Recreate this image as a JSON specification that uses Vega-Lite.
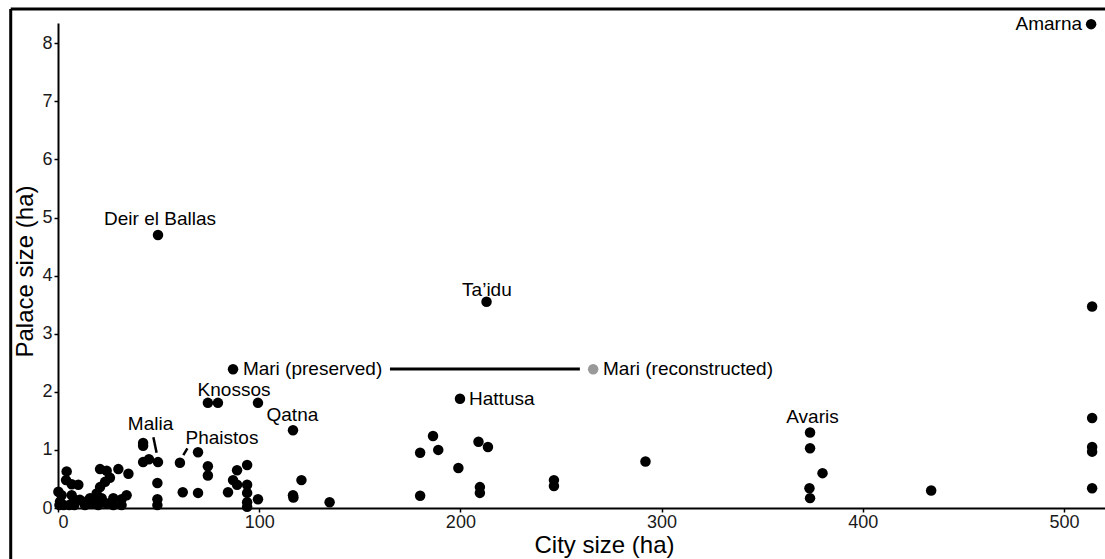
{
  "$schema": "https://vega.github.io/schema/vega-lite/v6.json",
  "width": 1047,
  "height": 485,
  "autosize": {"type": "none"},
  "padding": {"left": 58, "top": 23, "right": 0, "bottom": 51},
  "background": "white",
  "config": {
    "view": {"stroke": null},
    "font": "Liberation Sans",
    "axis": {
      "grid": false,
      "domainColor": "black",
      "domainWidth": 2,
      "tickColor": "black",
      "tickWidth": 1.5,
      "tickSize": 4,
      "labelFontSize": 18,
      "labelColor": "#1a1a1a",
      "labelFont": "Liberation Sans",
      "titleFont": "Liberation Sans",
      "titleFontSize": 24,
      "titleFontWeight": "normal",
      "titleColor": "black"
    }
  },
  "datasets": {
    "sites": [
      {"city": 513.5, "palace": 8.33, "estimate": "preserved"},
      {"city": 49.7, "palace": 4.70, "estimate": "preserved"},
      {"city": 213.0, "palace": 3.55, "estimate": "preserved"},
      {"city": 87.0, "palace": 2.39, "estimate": "preserved"},
      {"city": 266.0, "palace": 2.39, "estimate": "reconstructed"},
      {"city": 74.5, "palace": 1.81, "estimate": "preserved"},
      {"city": 79.5, "palace": 1.81, "estimate": "preserved"},
      {"city": 99.4, "palace": 1.81, "estimate": "preserved"},
      {"city": 116.8, "palace": 1.34, "estimate": "preserved"},
      {"city": 199.8, "palace": 1.88, "estimate": "preserved"},
      {"city": 373.8, "palace": 1.30, "estimate": "preserved"},
      {"city": 373.8, "palace": 1.03, "estimate": "preserved"},
      {"city": 380.0, "palace": 0.60, "estimate": "preserved"},
      {"city": 373.5, "palace": 0.34, "estimate": "preserved"},
      {"city": 373.8, "palace": 0.17, "estimate": "preserved"},
      {"city": 434.0, "palace": 0.30, "estimate": "preserved"},
      {"city": 514.0, "palace": 3.47, "estimate": "preserved"},
      {"city": 514.0, "palace": 1.55, "estimate": "preserved"},
      {"city": 514.0, "palace": 1.05, "estimate": "preserved"},
      {"city": 514.0, "palace": 0.97, "estimate": "preserved"},
      {"city": 514.0, "palace": 0.34, "estimate": "preserved"},
      {"city": 292.0, "palace": 0.80, "estimate": "preserved"},
      {"city": 246.5, "palace": 0.48, "estimate": "preserved"},
      {"city": 246.5, "palace": 0.38, "estimate": "preserved"},
      {"city": 209.7, "palace": 0.36, "estimate": "preserved"},
      {"city": 209.7, "palace": 0.26, "estimate": "preserved"},
      {"city": 209.0, "palace": 1.14, "estimate": "preserved"},
      {"city": 213.7, "palace": 1.05, "estimate": "preserved"},
      {"city": 180.0, "palace": 0.95, "estimate": "preserved"},
      {"city": 186.4, "palace": 1.24, "estimate": "preserved"},
      {"city": 189.0, "palace": 1.00, "estimate": "preserved"},
      {"city": 199.0, "palace": 0.69, "estimate": "preserved"},
      {"city": 180.0, "palace": 0.21, "estimate": "preserved"},
      {"city": 121.0, "palace": 0.48, "estimate": "preserved"},
      {"city": 116.8, "palace": 0.22, "estimate": "preserved"},
      {"city": 117.0, "palace": 0.18, "estimate": "preserved"},
      {"city": 135.0, "palace": 0.10, "estimate": "preserved"},
      {"city": 99.4, "palace": 0.15, "estimate": "preserved"},
      {"city": 94.0, "palace": 0.74, "estimate": "preserved"},
      {"city": 89.0, "palace": 0.65, "estimate": "preserved"},
      {"city": 87.0, "palace": 0.48, "estimate": "preserved"},
      {"city": 84.5, "palace": 0.27, "estimate": "preserved"},
      {"city": 89.0, "palace": 0.40, "estimate": "preserved"},
      {"city": 94.0, "palace": 0.40, "estimate": "preserved"},
      {"city": 94.0, "palace": 0.26, "estimate": "preserved"},
      {"city": 94.0, "palace": 0.10, "estimate": "preserved"},
      {"city": 94.0, "palace": 0.02, "estimate": "preserved"},
      {"city": 74.5, "palace": 0.72, "estimate": "preserved"},
      {"city": 74.5, "palace": 0.56, "estimate": "preserved"},
      {"city": 69.6, "palace": 0.96, "estimate": "preserved"},
      {"city": 60.6, "palace": 0.78, "estimate": "preserved"},
      {"city": 62.0, "palace": 0.27, "estimate": "preserved"},
      {"city": 69.6, "palace": 0.26, "estimate": "preserved"},
      {"city": 49.7, "palace": 0.79, "estimate": "preserved"},
      {"city": 45.2, "palace": 0.84, "estimate": "preserved"},
      {"city": 42.3, "palace": 0.79, "estimate": "preserved"},
      {"city": 42.3, "palace": 1.12, "estimate": "preserved"},
      {"city": 42.3, "palace": 1.07, "estimate": "preserved"},
      {"city": 49.4, "palace": 0.43, "estimate": "preserved"},
      {"city": 49.4, "palace": 0.15, "estimate": "preserved"},
      {"city": 49.4, "palace": 0.05, "estimate": "preserved"},
      {"city": 4.3, "palace": 0.63, "estimate": "preserved"},
      {"city": 4.0, "palace": 0.48, "estimate": "preserved"},
      {"city": 6.8, "palace": 0.41, "estimate": "preserved"},
      {"city": 10.1, "palace": 0.40, "estimate": "preserved"},
      {"city": 1.8, "palace": 0.22, "estimate": "preserved"},
      {"city": 1.0, "palace": 0.11, "estimate": "preserved"},
      {"city": 2.8, "palace": 0.05, "estimate": "preserved"},
      {"city": 5.6, "palace": 0.05, "estimate": "preserved"},
      {"city": 8.1, "palace": 0.05, "estimate": "preserved"},
      {"city": 6.8, "palace": 0.22, "estimate": "preserved"},
      {"city": 8.4, "palace": 0.14, "estimate": "preserved"},
      {"city": 14.3, "palace": 0.11, "estimate": "preserved"},
      {"city": 16.7, "palace": 0.08, "estimate": "preserved"},
      {"city": 20.9, "palace": 0.67, "estimate": "preserved"},
      {"city": 24.2, "palace": 0.64, "estimate": "preserved"},
      {"city": 25.8, "palace": 0.52, "estimate": "preserved"},
      {"city": 23.4, "palace": 0.45, "estimate": "preserved"},
      {"city": 20.9, "palace": 0.36, "estimate": "preserved"},
      {"city": 19.2, "palace": 0.25, "estimate": "preserved"},
      {"city": 21.7, "palace": 0.17, "estimate": "preserved"},
      {"city": 20.0, "palace": 0.05, "estimate": "preserved"},
      {"city": 23.9, "palace": 0.08, "estimate": "preserved"},
      {"city": 27.5, "palace": 0.17, "estimate": "preserved"},
      {"city": 27.5, "palace": 0.05, "estimate": "preserved"},
      {"city": 30.0, "palace": 0.67, "estimate": "preserved"},
      {"city": 35.0, "palace": 0.59, "estimate": "preserved"},
      {"city": 31.6, "palace": 0.15, "estimate": "preserved"},
      {"city": 31.6, "palace": 0.05, "estimate": "preserved"},
      {"city": 34.1, "palace": 0.22, "estimate": "preserved"},
      {"city": 13.4, "palace": 0.05, "estimate": "preserved"},
      {"city": 10.9, "palace": 0.14, "estimate": "preserved"},
      {"city": 0.2, "palace": 0.28, "estimate": "preserved"},
      {"city": 0.7, "palace": 0.05, "estimate": "preserved"},
      {"city": 18.4, "palace": 0.17, "estimate": "preserved"},
      {"city": 15.9, "palace": 0.17, "estimate": "preserved"}
    ],
    "labels": [
      {"label": "Amarna", "lx": 509.0, "ly": 8.33, "side": "right"},
      {"label": "Deir el Ballas", "lx": 50.7, "ly": 4.97, "side": "center"},
      {"label": "Ta’idu", "lx": 213.2, "ly": 3.76, "side": "center"},
      {"label": "Mari (preserved)", "lx": 91.9, "ly": 2.39, "side": "left"},
      {"label": "Mari (reconstructed)", "lx": 270.9, "ly": 2.39, "side": "left"},
      {"label": "Knossos", "lx": 87.5, "ly": 2.04, "side": "center"},
      {"label": "Qatna", "lx": 116.5, "ly": 1.60, "side": "center"},
      {"label": "Hattusa", "lx": 204.3, "ly": 1.88, "side": "left"},
      {"label": "Avaris", "lx": 375.0, "ly": 1.56, "side": "center"},
      {"label": "Malia", "lx": 46.0, "ly": 1.44, "side": "center"},
      {"label": "Phaistos", "lx": 81.5, "ly": 1.20, "side": "center"}
    ],
    "segments": [
      {"x1": 47.4, "x2": 49.0, "y1": 1.217, "y2": 0.952},
      {"x1": 62.3, "x2": 64.3, "y1": 0.912, "y2": 1.027}
    ],
    "mari": [
      {"from": 165.0, "to": 259.4, "palace": 2.392}
    ],
    "frame": [
      {"left": -23.5, "right": 560, "top": 8.59, "bottom": -1.5}
    ]
  },
  "layer": [
    {
      "data": {"name": "frame"},
      "mark": {"type": "rule", "color": "black", "strokeWidth": 3, "clip": false},
      "encoding": {
        "x": {"field": "left", "type": "quantitative", "scale": {"domain": [0, 520.4]}},
        "y": {"field": "top", "type": "quantitative", "scale": {"domain": [0, 8.35]}},
        "y2": {"field": "bottom"}
      }
    },
    {
      "data": {"name": "frame"},
      "mark": {"type": "rule", "color": "black", "strokeWidth": 3, "clip": false},
      "encoding": {
        "x": {"field": "left", "type": "quantitative", "scale": {"domain": [0, 520.4]}},
        "x2": {"field": "right"},
        "y": {"field": "top", "type": "quantitative", "scale": {"domain": [0, 8.35]}}
      }
    },
    {
      "data": {"name": "mari"},
      "mark": {"type": "rule", "color": "black", "strokeWidth": 3},
      "encoding": {
        "x": {"field": "from", "type": "quantitative", "scale": {"domain": [0, 520.4]}},
        "x2": {"field": "to"},
        "y": {"field": "palace", "type": "quantitative", "scale": {"domain": [0, 8.35]}}
      }
    },
    {
      "data": {"name": "segments"},
      "mark": {"type": "rule", "color": "black", "strokeWidth": 2.5},
      "encoding": {
        "x": {"field": "x1", "type": "quantitative", "scale": {"domain": [0, 520.4]}},
        "x2": {"field": "x2"},
        "y": {"field": "y1", "type": "quantitative", "scale": {"domain": [0, 8.35]}},
        "y2": {"field": "y2"}
      }
    },
    {
      "data": {"name": "sites"},
      "mark": {"type": "circle", "size": 110, "opacity": 1, "clip": false},
      "encoding": {
        "x": {
          "field": "city", "type": "quantitative",
          "scale": {"domain": [0, 520.4], "nice": false, "zero": false},
          "axis": {
            "title": "City size (ha)",
            "values": [0, 100, 200, 300, 400, 500],
            "format": "d",
            "labelPadding": 1,
            "titleX": 546,
            "titleY": 37,
            "titleBaseline": "middle"
          }
        },
        "y": {
          "field": "palace", "type": "quantitative",
          "scale": {"domain": [0, 8.35], "nice": false, "zero": false},
          "axis": {
            "title": "Palace size (ha)",
            "values": [0, 1, 2, 3, 4, 5, 6, 7, 8],
            "format": "d",
            "labelPadding": 2,
            "titleX": -33,
            "titleY": 248,
            "titleBaseline": "middle"
          }
        },
        "color": {
          "field": "estimate", "type": "nominal",
          "scale": {"domain": ["preserved", "reconstructed"], "range": ["#000000", "#999999"]},
          "legend": null
        }
      }
    },
    {
      "data": {"name": "labels"},
      "transform": [{"filter": "datum.side === 'center'"}],
      "mark": {"type": "text", "fontSize": 19, "font": "Liberation Sans", "color": "black", "align": "center", "baseline": "middle"},
      "encoding": {
        "x": {"field": "lx", "type": "quantitative", "scale": {"domain": [0, 520.4]}},
        "y": {"field": "ly", "type": "quantitative", "scale": {"domain": [0, 8.35]}},
        "text": {"field": "label"}
      }
    },
    {
      "data": {"name": "labels"},
      "transform": [{"filter": "datum.side === 'left'"}],
      "mark": {"type": "text", "fontSize": 19, "font": "Liberation Sans", "color": "black", "align": "left", "baseline": "middle"},
      "encoding": {
        "x": {"field": "lx", "type": "quantitative", "scale": {"domain": [0, 520.4]}},
        "y": {"field": "ly", "type": "quantitative", "scale": {"domain": [0, 8.35]}},
        "text": {"field": "label"}
      }
    },
    {
      "data": {"name": "labels"},
      "transform": [{"filter": "datum.side === 'right'"}],
      "mark": {"type": "text", "fontSize": 19, "font": "Liberation Sans", "color": "black", "align": "right", "baseline": "middle"},
      "encoding": {
        "x": {"field": "lx", "type": "quantitative", "scale": {"domain": [0, 520.4]}},
        "y": {"field": "ly", "type": "quantitative", "scale": {"domain": [0, 8.35]}},
        "text": {"field": "label"}
      }
    }
  ]
}
